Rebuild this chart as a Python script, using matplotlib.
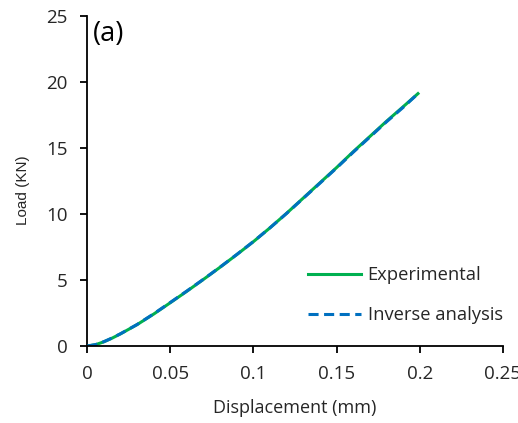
import matplotlib
matplotlib.use("Agg")
import matplotlib.pyplot as plt

plt.rcParams['font.family'] = ['Open Sans', 'DejaVu Sans']

# Load-displacement curves
disp_exp = [0, 0.005, 0.01, 0.015, 0.02, 0.03, 0.04, 0.05, 0.06, 0.07, 0.08, 0.09, 0.10,
            0.11, 0.12, 0.13, 0.14, 0.15, 0.16, 0.17, 0.18, 0.19, 0.199]
load_exp = [0, 0.10, 0.32, 0.60, 0.92, 1.62, 2.42, 3.28, 4.15, 5.05, 5.97, 6.92, 7.90,
            8.95, 10.05, 11.20, 12.35, 13.50, 14.70, 15.85, 17.00, 18.10, 19.10]

disp_inv = [0, 0.005, 0.01, 0.015, 0.02, 0.03, 0.04, 0.05, 0.06, 0.07, 0.08, 0.09, 0.10,
            0.11, 0.12, 0.13, 0.14, 0.15, 0.16, 0.17, 0.18, 0.19, 0.198]
load_inv = [0, 0.11, 0.33, 0.61, 0.93, 1.63, 2.44, 3.30, 4.17, 5.06, 5.98, 6.93, 7.91,
            8.95, 10.04, 11.18, 12.32, 13.47, 14.66, 15.81, 16.96, 18.05, 18.98]

x_ticks = [0, 0.05, 0.1, 0.15, 0.2, 0.25]
x_tick_labels = ['0', '0.05', '0.1', '0.15', '0.2', '0.25']
y_ticks = [0, 5, 10, 15, 20, 25]

fig = plt.figure(figsize=(5.18, 4.23), dpi=100)
ax = fig.add_axes([0.1685, 0.182, 0.802, 0.781])

ax.plot(disp_exp, load_exp, color='#00B050', lw=2.2, label='Experimental', zorder=2)
ax.plot(disp_inv, load_inv, color='#0070C0', lw=2.2, ls=(0, (3.3, 1.8)),
        label='Inverse analysis', zorder=3)

ax.set_xlim(0, 0.25)
ax.set_ylim(0, 25)
ax.set_xticks(x_ticks)
ax.set_xticklabels(x_tick_labels)
ax.set_yticks(y_ticks)

for side in ('top', 'right'):
    ax.spines[side].set_visible(False)
for side in ('left', 'bottom'):
    ax.spines[side].set_linewidth(1.3)
    ax.spines[side].set_color('black')
ax.spines['bottom'].set_zorder(4)
ax.tick_params(direction='out', length=5, width=1.3, labelsize=13.5, pad=9,
               colors='black', labelcolor='#262626')

ax.set_xlabel('Displacement (mm)', fontsize=13, color='#262626', labelpad=11)
ax.set_ylabel('Load (KN)', fontsize=11, color='#262626', labelpad=12,
              family=['Liberation Sans', 'DejaVu Sans'])
ax.yaxis.label.set_y(0.473)

ax.text(0.013, 0.945, '(a)', transform=ax.transAxes, fontsize=19.5,
        ha='left', va='center', color='black')

leg = ax.legend(loc='lower right', bbox_to_anchor=(1.0, 0.066), frameon=False,
                fontsize=13.2, handlelength=2.9, labelspacing=1.2, handletextpad=0.35,
                borderaxespad=0.0, borderpad=0.0)
for t in leg.get_texts():
    t.set_color('#262626')

fig.savefig('out.png', dpi=100)
